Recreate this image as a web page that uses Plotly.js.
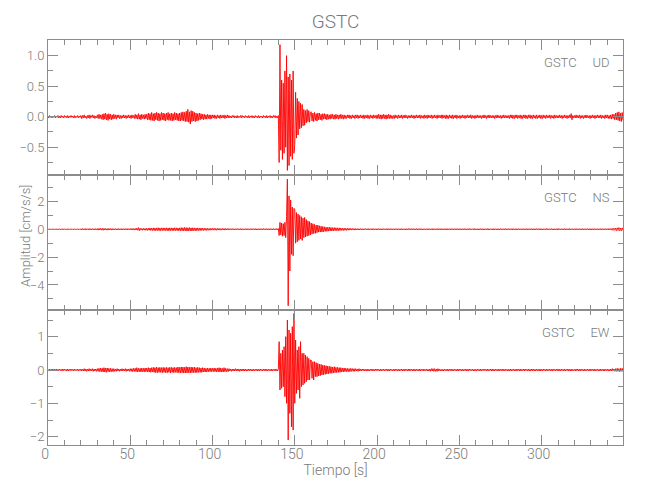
<!DOCTYPE html>
<html>
<head>
<meta charset="utf-8">
<script src="https://cdn.plot.ly/plotly-3.0.1.min.js"></script>
<style>
html,body{margin:0;padding:0;background:#fff;}
#chart{width:650px;height:500px;}
</style>
</head>
<body>
<div id="chart"></div>
<script>
// Sampling interval (s) of the traces
const DT = 0.5;
const STATION = "GSTC";
const COMPONENTS = ["UD", "NS", "EW"];
const X_TITLE = "Tiempo [s]";
const Y_TITLE = "Amplitud [cm/s/s]";

// UD component (cm/s/s), one value every 0.5 s, rows of 10 s
const UD = [
0.01,-0.02,0.02,-0.01,0.01,-0.02,0.01,-0.01,0.02,-0.02,0.01,-0.01,0.02,-0.02,0.01,-0.02,0.02,-0.01,0.01,-0.02,
0.02,-0.01,0.01,-0.02,0.02,-0.02,0.01,-0.01,0.02,-0.01,0.01,-0.02,0.02,-0.02,0.01,-0.01,0.02,-0.02,0.01,-0.01,
0.02,-0.03,0.02,-0.02,0.03,-0.02,0.01,-0.03,0.02,-0.02,0.03,-0.03,0.02,-0.01,0.03,-0.02,0.02,-0.03,0.01,-0.02,
0.03,-0.03,0.04,-0.03,0.03,-0.04,0.04,-0.05,0.05,-0.04,0.06,-0.05,0.04,-0.06,0.05,-0.04,0.04,-0.05,0.03,-0.04,
0.04,-0.03,0.03,-0.04,0.03,-0.02,0.03,-0.03,0.02,-0.03,0.02,-0.02,0.03,-0.02,0.02,-0.03,0.02,-0.02,0.03,-0.02,
0.02,-0.03,0.03,-0.02,0.02,-0.03,0.04,-0.03,0.03,-0.04,0.05,-0.04,0.03,-0.05,0.04,-0.03,0.03,-0.04,0.04,-0.03,
0.04,-0.05,0.06,-0.05,0.05,-0.06,0.07,-0.06,0.05,-0.07,0.06,-0.05,0.07,-0.06,0.06,-0.07,0.05,-0.06,0.07,-0.05,
0.06,-0.06,0.05,-0.07,0.06,-0.05,0.07,-0.06,0.05,-0.06,0.06,-0.07,0.05,-0.06,0.07,-0.05,0.06,-0.06,0.05,-0.07,
0.06,-0.07,0.07,-0.06,0.08,-0.07,0.07,-0.08,0.09,-0.08,0.12,-0.09,0.08,-0.12,0.10,-0.08,0.09,-0.07,0.07,-0.08,
0.06,-0.07,0.05,-0.06,0.06,-0.05,0.05,-0.04,0.04,-0.05,0.04,-0.04,0.03,-0.04,0.04,-0.03,0.03,-0.04,0.03,-0.03,
0.03,-0.02,0.03,-0.03,0.02,-0.03,0.03,-0.02,0.02,-0.03,0.03,-0.02,0.02,-0.02,0.03,-0.03,0.02,-0.02,0.03,-0.02,
0.02,-0.02,0.01,-0.02,0.02,-0.01,0.02,-0.02,0.01,-0.02,0.02,-0.02,0.01,-0.01,0.02,-0.02,0.02,-0.01,0.01,-0.02,
0.02,-0.01,0.01,-0.02,0.02,-0.02,0.01,-0.01,0.02,-0.02,0.01,-0.02,0.02,-0.01,0.01,-0.02,0.02,-0.02,0.01,-0.01,
0.01,-0.02,0.02,-0.01,0.01,-0.02,0.02,-0.02,0.01,-0.01,0.02,-0.02,0.01,-0.02,0.02,-0.01,0.02,-0.02,0.01,-0.02,
0.02,-0.75,1.18,-0.55,0.6,-0.7,0.55,-0.6,0.75,-0.5,1.0,-0.88,0.65,-0.8,0.7,-0.65,0.6,-0.7,0.75,-0.6,
-0.45,0.4,-0.35,0.3,-0.3,0.25,-0.2,0.22,-0.18,0.2,-0.15,0.12,-0.14,0.1,-0.1,0.12,-0.08,0.1,-0.09,0.07,
0.08,-0.07,0.06,-0.08,0.07,-0.06,0.05,-0.07,0.06,-0.05,0.06,-0.05,0.04,-0.06,0.05,-0.04,0.05,-0.04,0.04,-0.05,
0.04,-0.04,0.03,-0.04,0.04,-0.03,0.04,-0.04,0.03,-0.04,0.04,-0.03,0.03,-0.04,0.03,-0.03,0.04,-0.03,0.03,-0.04,
0.03,-0.03,0.02,-0.03,0.03,-0.02,0.03,-0.03,0.02,-0.03,0.03,-0.02,0.02,-0.03,0.03,-0.02,0.03,-0.03,0.02,-0.02,
0.03,-0.02,0.02,-0.03,0.03,-0.03,0.02,-0.02,0.03,-0.03,0.02,-0.03,0.03,-0.02,0.02,-0.03,0.03,-0.02,0.02,-0.03,
0.03,-0.03,0.04,-0.03,0.03,-0.04,0.03,-0.03,0.04,-0.03,0.03,-0.04,0.03,-0.03,0.04,-0.03,0.03,-0.03,0.02,-0.03,
0.02,-0.03,0.03,-0.02,0.02,-0.03,0.03,-0.02,0.02,-0.02,0.03,-0.03,0.02,-0.02,0.03,-0.02,0.02,-0.03,0.02,-0.02,
0.02,-0.02,0.03,-0.02,0.02,-0.03,0.02,-0.02,0.03,-0.02,0.02,-0.02,0.03,-0.03,0.02,-0.02,0.02,-0.03,0.03,-0.02,
0.02,-0.03,0.03,-0.02,0.02,-0.02,0.03,-0.03,0.02,-0.02,0.03,-0.02,0.02,-0.03,0.03,-0.02,0.02,-0.02,0.03,-0.03,
0.03,-0.02,0.02,-0.03,0.03,-0.03,0.02,-0.03,0.03,-0.02,0.02,-0.03,0.03,-0.03,0.02,-0.02,0.03,-0.03,0.02,-0.02,
0.02,-0.03,0.02,-0.02,0.03,-0.02,0.02,-0.03,0.02,-0.02,0.03,-0.02,0.02,-0.02,0.03,-0.03,0.02,-0.02,0.02,-0.03,
0.02,-0.02,0.03,-0.02,0.02,-0.02,0.02,-0.03,0.02,-0.02,0.03,-0.02,0.02,-0.03,0.02,-0.02,0.03,-0.02,0.02,-0.02,
0.02,-0.02,0.02,-0.03,0.02,-0.02,0.03,-0.02,0.02,-0.02,0.02,-0.03,0.02,-0.02,0.03,-0.02,0.02,-0.02,0.02,-0.02,
0.02,-0.03,0.03,-0.02,0.03,-0.03,0.02,-0.03,0.03,-0.02,0.03,-0.03,0.02,-0.02,0.03,-0.03,0.02,-0.03,0.03,-0.02,
0.03,-0.03,0.02,-0.03,0.03,-0.02,0.03,-0.03,0.02,-0.03,0.03,-0.02,0.02,-0.03,0.03,-0.03,0.02,-0.02,0.03,-0.03,
0.02,-0.03,0.03,-0.02,0.02,-0.03,0.03,-0.02,0.02,-0.02,0.03,-0.03,0.02,-0.02,0.02,-0.03,0.03,-0.02,0.02,-0.02,
0.02,-0.02,0.03,-0.02,0.02,-0.03,0.02,-0.02,0.03,-0.02,0.02,-0.03,0.02,-0.02,0.03,-0.02,0.05,-0.05,0.02,-0.02,
0.02,-0.02,0.03,-0.02,0.02,-0.02,0.03,-0.03,0.02,-0.02,0.02,-0.03,0.02,-0.02,0.03,-0.02,0.02,-0.02,0.02,-0.03,
0.02,-0.02,0.03,-0.02,0.02,-0.03,0.02,-0.02,0.03,-0.02,0.02,-0.02,0.03,-0.03,0.02,-0.02,0.02,-0.03,0.03,-0.02,
0.03,-0.03,0.02,-0.03,0.03,-0.04,0.04,-0.03,0.04,-0.05,0.06,-0.05,0.07,-0.06,0.08,-0.07,0.06,-0.08,0.07,-0.06
];

// NS component (cm/s/s)
const NS = [
0.03,-0.04,0.04,-0.03,0.03,-0.04,0.04,-0.03,0.03,-0.04,0.04,-0.03,0.03,-0.04,0.04,-0.03,0.03,-0.04,0.04,-0.03,
0.04,-0.03,0.03,-0.04,0.04,-0.04,0.03,-0.03,0.04,-0.03,0.03,-0.04,0.04,-0.03,0.03,-0.03,0.04,-0.04,0.03,-0.03,
0.04,-0.05,0.05,-0.04,0.04,-0.05,0.05,-0.04,0.04,-0.04,0.05,-0.05,0.04,-0.04,0.05,-0.04,0.04,-0.05,0.05,-0.04,
0.05,-0.06,0.06,-0.05,0.07,-0.06,0.06,-0.07,0.06,-0.05,0.06,-0.06,0.05,-0.06,0.06,-0.05,0.05,-0.06,0.05,-0.05,
0.04,-0.05,0.05,-0.04,0.04,-0.05,0.05,-0.04,0.04,-0.05,0.05,-0.04,0.04,-0.05,0.05,-0.04,0.05,-0.05,0.04,-0.04,
0.05,-0.05,0.06,-0.05,0.05,-0.06,0.06,-0.05,0.08,-0.07,0.12,-0.10,0.07,-0.06,0.06,-0.07,0.07,-0.06,0.06,-0.07,
0.07,-0.08,0.08,-0.07,0.09,-0.08,0.08,-0.09,0.10,-0.09,0.09,-0.10,0.10,-0.09,0.11,-0.10,0.09,-0.10,0.10,-0.09,
0.10,-0.09,0.09,-0.10,0.11,-0.10,0.09,-0.11,0.10,-0.09,0.10,-0.10,0.09,-0.10,0.11,-0.09,0.10,-0.10,0.09,-0.10,
0.10,-0.11,0.12,-0.10,0.11,-0.12,0.13,-0.11,0.12,-0.13,0.11,-0.12,0.12,-0.11,0.10,-0.12,0.11,-0.10,0.10,-0.11,
0.09,-0.10,0.10,-0.09,0.08,-0.09,0.09,-0.08,0.08,-0.09,0.08,-0.07,0.07,-0.08,0.07,-0.07,0.06,-0.07,0.07,-0.06,
0.06,-0.06,0.07,-0.06,0.06,-0.07,0.06,-0.05,0.06,-0.06,0.05,-0.06,0.06,-0.05,0.05,-0.06,0.06,-0.05,0.05,-0.05,
0.05,-0.04,0.04,-0.05,0.05,-0.04,0.04,-0.05,0.04,-0.04,0.05,-0.04,0.04,-0.04,0.05,-0.05,0.04,-0.04,0.04,-0.05,
0.04,-0.04,0.05,-0.04,0.04,-0.05,0.04,-0.04,0.05,-0.04,0.04,-0.04,0.05,-0.05,0.04,-0.04,0.04,-0.05,0.05,-0.04,
0.04,-0.05,0.05,-0.04,0.04,-0.04,0.05,-0.05,0.04,-0.04,0.05,-0.04,0.04,-0.05,0.05,-0.04,0.04,-0.04,0.05,-0.05,
0.05,-0.45,0.5,-0.4,0.45,-0.5,0.4,-0.45,0.5,-0.6,0.9,3.6,-5.5,2.4,-3.0,2.1,-1.8,1.6,-1.9,1.5,
1.4,-1.0,1.2,-0.9,1.1,-0.8,1.0,-0.7,0.9,-0.8,0.8,-0.6,0.85,-0.55,0.7,-0.5,0.6,-0.45,0.55,-0.4,
0.45,-0.35,0.4,-0.3,0.35,-0.3,0.3,-0.25,0.3,-0.2,0.25,-0.2,0.22,-0.2,0.2,-0.18,0.18,-0.15,0.15,-0.15,
0.14,-0.13,0.15,-0.12,0.13,-0.12,0.12,-0.11,0.12,-0.1,0.11,-0.1,0.1,-0.1,0.1,-0.09,0.09,-0.08,0.08,-0.09,
0.08,-0.07,0.07,-0.08,0.07,-0.06,0.07,-0.06,0.06,-0.06,0.06,-0.05,0.05,-0.06,0.05,-0.05,0.05,-0.05,0.04,-0.05,
0.05,-0.04,0.04,-0.05,0.04,-0.04,0.05,-0.04,0.04,-0.05,0.05,-0.04,0.04,-0.04,0.05,-0.05,0.04,-0.04,0.04,-0.05,
0.04,-0.04,0.05,-0.04,0.04,-0.05,0.04,-0.04,0.05,-0.04,0.04,-0.04,0.05,-0.05,0.04,-0.04,0.05,-0.04,0.04,-0.04,
0.04,-0.05,0.04,-0.04,0.05,-0.04,0.04,-0.04,0.04,-0.05,0.05,-0.04,0.04,-0.04,0.04,-0.05,0.04,-0.04,0.05,-0.04,
0.05,-0.04,0.04,-0.05,0.05,-0.04,0.04,-0.04,0.05,-0.05,0.04,-0.04,0.05,-0.04,0.04,-0.05,0.04,-0.04,0.04,-0.04,
0.04,-0.04,0.05,-0.04,0.04,-0.04,0.04,-0.05,0.05,-0.04,0.04,-0.05,0.04,-0.04,0.05,-0.04,0.04,-0.05,0.05,-0.04,
0.04,-0.05,0.04,-0.04,0.05,-0.05,0.04,-0.04,0.04,-0.04,0.05,-0.04,0.04,-0.05,0.04,-0.04,0.05,-0.04,0.04,-0.05,
0.05,-0.04,0.04,-0.04,0.04,-0.05,0.05,-0.04,0.04,-0.04,0.04,-0.05,0.05,-0.04,0.04,-0.04,0.04,-0.04,0.05,-0.05,
0.04,-0.04,0.04,-0.05,0.04,-0.04,0.05,-0.04,0.04,-0.05,0.04,-0.04,0.04,-0.04,0.05,-0.05,0.04,-0.04,0.04,-0.04,
0.04,-0.05,0.05,-0.04,0.04,-0.04,0.04,-0.05,0.04,-0.04,0.05,-0.04,0.04,-0.04,0.04,-0.05,0.05,-0.04,0.04,-0.04,
0.05,-0.04,0.04,-0.04,0.05,-0.05,0.04,-0.04,0.04,-0.05,0.04,-0.04,0.05,-0.04,0.04,-0.04,0.04,-0.05,0.04,-0.04,
0.04,-0.04,0.05,-0.05,0.04,-0.04,0.04,-0.04,0.05,-0.04,0.04,-0.05,0.04,-0.04,0.05,-0.04,0.04,-0.04,0.05,-0.05,
0.04,-0.05,0.04,-0.04,0.04,-0.04,0.05,-0.05,0.04,-0.04,0.04,-0.04,0.05,-0.04,0.04,-0.05,0.04,-0.04,0.04,-0.05,
0.05,-0.04,0.04,-0.05,0.04,-0.04,0.04,-0.04,0.05,-0.05,0.04,-0.04,0.04,-0.05,0.05,-0.04,0.04,-0.04,0.04,-0.04,
0.04,-0.04,0.05,-0.04,0.04,-0.05,0.04,-0.04,0.04,-0.04,0.05,-0.05,0.04,-0.04,0.04,-0.04,0.05,-0.04,0.04,-0.05,
0.04,-0.05,0.04,-0.04,0.05,-0.04,0.04,-0.04,0.04,-0.05,0.04,-0.04,0.05,-0.05,0.04,-0.04,0.04,-0.04,0.05,-0.04,
0.04,-0.05,0.05,-0.04,0.05,-0.06,0.06,-0.07,0.08,-0.07,0.09,-0.1,0.1,-0.08,0.12,-0.1,0.09,-0.11,0.1,-0.08
];

// EW component (cm/s/s)
const EW = [
0.02,-0.03,0.03,-0.02,0.02,-0.03,0.03,-0.02,0.02,-0.02,0.03,-0.03,0.02,-0.02,0.03,-0.02,0.02,-0.03,0.03,-0.02,
0.03,-0.02,0.02,-0.03,0.03,-0.03,0.02,-0.02,0.03,-0.02,0.02,-0.03,0.03,-0.02,0.02,-0.02,0.03,-0.03,0.02,-0.02,
0.03,-0.03,0.02,-0.03,0.04,-0.03,0.03,-0.04,0.03,-0.03,0.04,-0.03,0.03,-0.03,0.04,-0.04,0.03,-0.03,0.03,-0.04,
0.04,-0.04,0.05,-0.05,0.06,-0.05,0.05,-0.06,0.07,-0.06,0.06,-0.07,0.06,-0.05,0.05,-0.06,0.05,-0.05,0.04,-0.05,
0.04,-0.04,0.03,-0.04,0.04,-0.03,0.03,-0.04,0.03,-0.03,0.04,-0.03,0.03,-0.03,0.04,-0.04,0.03,-0.03,0.03,-0.04,
0.04,-0.04,0.04,-0.05,0.05,-0.04,0.05,-0.05,0.07,-0.06,0.05,-0.05,0.05,-0.06,0.06,-0.05,0.05,-0.06,0.06,-0.05,
0.06,-0.06,0.07,-0.06,0.06,-0.07,0.07,-0.06,0.08,-0.07,0.07,-0.08,0.09,-0.08,0.07,-0.07,0.08,-0.07,0.07,-0.08,
0.08,-0.07,0.07,-0.08,0.08,-0.08,0.07,-0.07,0.08,-0.09,0.08,-0.07,0.07,-0.08,0.08,-0.07,0.07,-0.08,0.09,-0.08,
0.08,-0.09,0.09,-0.08,0.09,-0.09,0.08,-0.09,0.1,-0.09,0.09,-0.08,0.08,-0.09,0.09,-0.08,0.08,-0.08,0.09,-0.08,
0.07,-0.08,0.08,-0.07,0.07,-0.07,0.06,-0.07,0.07,-0.06,0.06,-0.06,0.05,-0.06,0.06,-0.05,0.05,-0.05,0.06,-0.05,
0.05,-0.05,0.06,-0.05,0.05,-0.06,0.06,-0.05,0.07,-0.06,0.06,-0.06,0.05,-0.06,0.07,-0.05,0.05,-0.05,0.04,-0.05,
0.04,-0.03,0.03,-0.04,0.03,-0.03,0.03,-0.03,0.04,-0.03,0.03,-0.03,0.03,-0.04,0.03,-0.03,0.03,-0.03,0.03,-0.03,
0.03,-0.03,0.02,-0.03,0.03,-0.02,0.03,-0.03,0.02,-0.03,0.03,-0.03,0.02,-0.02,0.03,-0.03,0.02,-0.03,0.03,-0.02,
0.02,-0.03,0.03,-0.02,0.03,-0.03,0.02,-0.03,0.03,-0.02,0.02,-0.03,0.03,-0.03,0.02,-0.02,0.03,-0.03,0.02,-0.03,
0.03,0.85,-0.6,0.5,-0.55,0.6,-0.5,0.7,-0.8,1.0,-1.0,1.5,-2.1,1.2,-1.3,1.1,-1.7,1.3,-1.8,1.7,
-1.0,0.9,-0.7,0.6,-0.6,0.7,-0.85,0.85,-0.5,0.5,-0.45,0.5,-0.4,0.45,-0.35,0.4,-0.3,0.35,-0.3,0.3,
0.3,-0.25,0.25,-0.3,0.25,-0.2,0.22,-0.2,0.2,-0.18,0.18,-0.17,0.17,-0.15,0.15,-0.14,0.14,-0.13,0.13,-0.12,
0.12,-0.11,0.11,-0.1,0.1,-0.1,0.09,-0.09,0.1,-0.08,0.08,-0.08,0.08,-0.07,0.07,-0.07,0.07,-0.06,0.06,-0.06,
0.06,-0.05,0.05,-0.05,0.05,-0.05,0.04,-0.05,0.05,-0.04,0.04,-0.04,0.04,-0.04,0.04,-0.03,0.03,-0.04,0.04,-0.03,
0.03,-0.03,0.03,-0.02,0.03,-0.03,0.02,-0.03,0.03,-0.03,0.02,-0.03,0.03,-0.02,0.03,-0.03,0.02,-0.03,0.03,-0.02,
0.03,-0.02,0.02,-0.03,0.03,-0.03,0.02,-0.02,0.03,-0.03,0.02,-0.02,0.03,-0.03,0.02,-0.03,0.03,-0.02,0.02,-0.03,
0.02,-0.03,0.03,-0.02,0.02,-0.03,0.03,-0.03,0.02,-0.02,0.03,-0.03,0.02,-0.03,0.03,-0.02,0.02,-0.03,0.03,-0.03,
0.03,-0.02,0.02,-0.03,0.03,-0.03,0.02,-0.03,0.03,-0.02,0.02,-0.03,0.03,-0.03,0.02,-0.02,0.03,-0.03,0.02,-0.02,
0.03,-0.03,0.02,-0.03,0.03,-0.04,0.04,-0.03,0.04,-0.04,0.04,-0.04,0.03,-0.04,0.04,-0.03,0.03,-0.03,0.02,-0.03,
0.02,-0.03,0.03,-0.02,0.02,-0.03,0.03,-0.03,0.02,-0.02,0.03,-0.03,0.02,-0.03,0.03,-0.02,0.02,-0.03,0.03,-0.03,
0.03,-0.02,0.02,-0.03,0.03,-0.03,0.02,-0.02,0.03,-0.03,0.02,-0.03,0.03,-0.02,0.02,-0.02,0.03,-0.03,0.02,-0.03,
0.02,-0.03,0.03,-0.02,0.02,-0.03,0.03,-0.03,0.02,-0.02,0.03,-0.02,0.02,-0.03,0.03,-0.03,0.02,-0.02,0.03,-0.03,
0.03,-0.03,0.02,-0.03,0.03,-0.02,0.02,-0.03,0.03,-0.03,0.02,-0.02,0.03,-0.03,0.02,-0.03,0.03,-0.02,0.02,-0.03,
0.02,-0.03,0.03,-0.03,0.02,-0.02,0.03,-0.03,0.02,-0.03,0.03,-0.02,0.02,-0.03,0.03,-0.03,0.02,-0.02,0.03,-0.03,
0.03,-0.02,0.02,-0.03,0.03,-0.03,0.02,-0.03,0.03,-0.02,0.03,-0.03,0.02,-0.03,0.03,-0.02,0.02,-0.03,0.03,-0.03,
0.02,-0.03,0.03,-0.02,0.02,-0.03,0.03,-0.03,0.02,-0.02,0.03,-0.03,0.02,-0.03,0.03,-0.02,0.02,-0.03,0.03,-0.02,
0.03,-0.03,0.02,-0.03,0.03,-0.02,0.02,-0.03,0.03,-0.03,0.02,-0.02,0.03,-0.03,0.02,-0.03,0.03,-0.03,0.02,-0.02,
0.02,-0.03,0.03,-0.02,0.03,-0.03,0.02,-0.03,0.03,-0.02,0.02,-0.03,0.03,-0.03,0.02,-0.02,0.03,-0.03,0.02,-0.03,
0.03,-0.02,0.02,-0.03,0.03,-0.03,0.02,-0.02,0.03,-0.03,0.02,-0.03,0.03,-0.02,0.02,-0.03,0.03,-0.03,0.02,-0.02,
0.03,-0.03,0.02,-0.03,0.03,-0.03,0.04,-0.03,0.03,-0.04,0.04,-0.04,0.05,-0.04,0.04,-0.05,0.05,-0.04,0.05,-0.05
];

const SERIES = [UD, NS, EW];
const Y_RANGES = [[-0.955, 1.257], [-5.8, 3.9], [-2.25, 1.8]];
const Y_DTICK = [0.5, 2, 1];
const Y_FORMAT = [".1f", "", ""];
const X_RANGE = [0, 349.5];

const FONT = "Roboto, Liberation Sans, sans-serif";
const GRAY = "#7a7a7a";
const LINE = "#8c8c8c";

const time = UD.map((_, i) => i * DT);

const traces = SERIES.map((vals, k) => ({
  type: "scatter", mode: "lines",
  x: time, y: vals,
  xaxis: k === 0 ? "x" : "x" + (k + 1),
  yaxis: k === 0 ? "y" : "y" + (k + 1),
  line: {color: "#ff0000", width: 1},
  opacity: 0.9,
  hoverinfo: "skip", showlegend: false
}));

const layout = {
  width: 650, height: 500,
  paper_bgcolor: "#ffffff", plot_bgcolor: "#ffffff",
  margin: {l: 48, r: 27, t: 40, b: 55},
  font: {family: FONT, color: GRAY, size: 13, weight: 300},
  title: {text: STATION, x: 0.5, xref: "paper", y: 0.958, yanchor: "middle",
          font: {family: FONT, size: 19, color: GRAY, weight: 300}},
  showlegend: false,
  annotations: []
};

const domains = [[2/3, 1], [1/3, 2/3], [0, 1/3]];
for (let k = 0; k < 3; k++) {
  const xs = k === 0 ? "xaxis" : "xaxis" + (k + 1);
  const ys = k === 0 ? "yaxis" : "yaxis" + (k + 1);
  const yid = k === 0 ? "y" : "y" + (k + 1);
  const xid = k === 0 ? "x" : "x" + (k + 1);
  layout[xs] = {
    domain: [0, 1], anchor: yid, range: X_RANGE,
    dtick: 50, tick0: 0, ticks: "inside", ticklen: 10, tickwidth: 1, tickcolor: LINE,
    minor: {dtick: 10, ticks: "inside", ticklen: 5, tickcolor: LINE},
    showline: true, linecolor: LINE, linewidth: 1, mirror: "ticks",
    showgrid: false, zeroline: false,
    showticklabels: k === 2,
    ticklabelstandoff: -4, ticklabelshift: -3,
    tickfont: {family: FONT, size: 14, color: GRAY, weight: 300}
  };
  if (k > 0) layout[xs].matches = "x";
  if (k === 2) layout[xs].title = {text: X_TITLE, font: {family: FONT, size: 14, color: GRAY, weight: 300}, standoff: 2};
  layout[ys] = {
    domain: domains[k], anchor: xid, range: Y_RANGES[k],
    dtick: Y_DTICK[k], tick0: 0, tickformat: Y_FORMAT[k],
    ticks: "inside", ticklen: 10, tickwidth: 1, tickcolor: LINE,
    minor: {dtick: Y_DTICK[k] / 2, ticks: "inside", ticklen: 5, tickcolor: LINE},
    showline: true, linecolor: LINE, linewidth: 1, mirror: "ticks",
    showgrid: false, zeroline: false,
    tickfont: {family: FONT, size: 13, color: GRAY, weight: 300}
  };
  layout.annotations.push({
    text: STATION + "&nbsp;&nbsp;&nbsp;&nbsp;&nbsp;" + COMPONENTS[k],
    xref: "paper", x: 0.981, xanchor: "right",
    yref: yid + " domain", y: 1, yanchor: "middle", yshift: -22,
    showarrow: false, font: {family: FONT, size: 13, color: GRAY, weight: 300}
  });
}
layout.annotations.push({
  text: Y_TITLE, textangle: -90,
  xref: "paper", x: -0.04, xanchor: "center",
  yref: "paper", y: 0.516, yanchor: "middle",
  showarrow: false, font: {family: FONT, size: 13, color: GRAY, weight: 300}
});

Plotly.newPlot("chart", traces, layout, {staticPlot: true, displayModeBar: false});
</script>
</body>
</html>
